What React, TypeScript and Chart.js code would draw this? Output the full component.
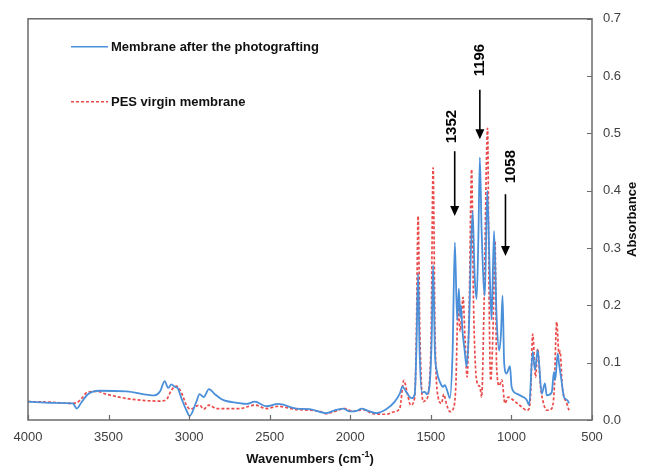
import React, { useEffect, useRef } from "react";
import { Chart, registerables } from "chart.js";

Chart.register(...registerables);

// ---- Data (wavenumber cm-1, absorbance) ----
const blueWave = [
  4000, 3850, 3722, 3697, 3670, 3628, 3556, 3390, 3214, 3180, 3152, 3130, 3110, 3090, 3070, 3048, 3017, 2997,
  2955, 2935, 2910, 2877, 2840, 2790, 2700, 2645, 2593, 2520, 2448, 2334, 2252, 2148, 2107, 2045, 2003, 1960,
  1930, 1890, 1837, 1775, 1724, 1693, 1676, 1655, 1620, 1600, 1590, 1579, 1570, 1555, 1537, 1525, 1510, 1495,
  1486, 1475, 1464, 1440, 1425, 1413, 1395, 1382, 1365, 1351, 1337, 1326, 1318, 1313, 1305, 1290, 1278, 1265,
  1241, 1228, 1216, 1205, 1196, 1185, 1165, 1150, 1135, 1123, 1108, 1092, 1076, 1065, 1055, 1045, 1030, 1009,
  999, 968, 927, 905, 890, 868, 854, 837, 812, 792, 781, 750, 736, 728, 713, 703, 690, 674, 660, 647, 643,
];
const blueAbs = [
  0.032, 0.03, 0.029, 0.02, 0.03, 0.045, 0.051, 0.05, 0.043, 0.05, 0.068, 0.056, 0.062, 0.058, 0.055, 0.038, 0.017, 0.007,
  0.032, 0.045, 0.04, 0.054, 0.045, 0.035, 0.03, 0.028, 0.032, 0.024, 0.028, 0.02, 0.019, 0.012, 0.016, 0.02, 0.015, 0.016,
  0.02, 0.016, 0.012, 0.019, 0.032, 0.046, 0.058, 0.05, 0.038, 0.045, 0.12, 0.255, 0.12, 0.048, 0.049, 0.045, 0.055, 0.14,
  0.27, 0.12, 0.087, 0.064, 0.058, 0.061, 0.048, 0.038, 0.12, 0.31, 0.174, 0.229, 0.18, 0.2, 0.16, 0.12, 0.093, 0.15,
  0.365, 0.25, 0.211, 0.32, 0.458, 0.33, 0.217, 0.4, 0.26, 0.175, 0.33, 0.18, 0.121, 0.15, 0.217, 0.099, 0.081, 0.094,
  0.058, 0.046, 0.04, 0.035, 0.026, 0.119, 0.087, 0.122, 0.046, 0.064, 0.043, 0.048, 0.084, 0.07, 0.116, 0.095, 0.07, 0.04, 0.036, 0.032, 0.029,
];

const redWave = [
  4000, 3850, 3740, 3700, 3660, 3635, 3573, 3514, 3349, 3183, 3140, 3110, 3079, 3048, 3017, 2993, 2935, 2910,
  2877, 2831, 2686, 2593, 2520, 2448, 2355, 2190, 2148, 2086, 2034, 1983, 1920, 1858, 1775, 1734, 1693, 1668,
  1645, 1626, 1600, 1590, 1579, 1568, 1548, 1530, 1500, 1486, 1474, 1455, 1434, 1420, 1405, 1382, 1360, 1345,
  1331, 1318, 1300, 1288, 1275, 1262, 1247, 1235, 1216, 1196, 1185, 1170, 1148, 1138, 1129, 1115, 1102, 1092,
  1075, 1060, 1040, 1020, 990, 960, 937, 906, 890, 880, 868, 850, 837, 820, 806, 781, 750, 735, 719, 705, 698,
  685, 674, 660, 643,
];
const redAbs = [
  0.032, 0.031, 0.029, 0.03, 0.04, 0.048, 0.05, 0.045, 0.036, 0.033, 0.036, 0.052, 0.059, 0.048, 0.026, 0.019, 0.026, 0.019,
  0.026, 0.02, 0.02, 0.026, 0.02, 0.024, 0.019, 0.015, 0.011, 0.016, 0.02, 0.015, 0.018, 0.011, 0.01, 0.014, 0.02, 0.069,
  0.045, 0.026, 0.04, 0.15, 0.356, 0.15, 0.032, 0.035, 0.12, 0.44, 0.15, 0.04, 0.029, 0.045, 0.03, 0.0145, 0.02, 0.06,
  0.197, 0.155, 0.214, 0.14, 0.075, 0.2, 0.437, 0.2, 0.069, 0.058, 0.04, 0.2, 0.509, 0.2, 0.069, 0.15, 0.3125, 0.093,
  0.06, 0.07, 0.029, 0.04, 0.035, 0.028, 0.023, 0.017, 0.02, 0.05, 0.15, 0.075, 0.124, 0.06, 0.035, 0.017, 0.02, 0.05, 0.171, 0.116, 0.12,
  0.06, 0.04, 0.032, 0.017,
];

const seriesNames = ["Membrane after the photografting", "PES virgin membrane"];
const xTickValues = [4000, 3500, 3000, 2500, 2000, 1500, 1000, 500];
const yTickValues = [0, 0.1, 0.2, 0.3, 0.4, 0.5, 0.6, 0.7];
const peakLabels = ["1352", "1196", "1058"];

const xTitle = "Wavenumbers (cm";
const xTitleSup = "-1";
const yTitle = "Absorbance";

// annotation placement (in data units)
const annotations = [
  { text: peakLabels[0], textX: 1370, textY: 0.512, arrowX: 1352, fromY: 0.469, toY: 0.356 },
  { text: peakLabels[1], textX: 1196, textY: 0.628, arrowX: 1196, fromY: 0.576, toY: 0.49 },
  { text: peakLabels[2], textX: 1005, textY: 0.442, arrowX: 1037, fromY: 0.394, toY: 0.286 },
];

const BLUE = "#4A8FD9";
const RED = "#EA4B4B";
const AXIS = "#6b6b6b";
const FONT = "'Liberation Sans', Arial, sans-serif";

const overlayPlugin = {
  id: "overlay",
  afterDatasetsDraw(chart: any) {
    const { ctx, chartArea } = chart;
    const xs = chart.scales.x;
    const ys = chart.scales.y;
    const { left, right, top, bottom } = chartArea;
    ctx.save();

    // plot border
    ctx.strokeStyle = AXIS;
    ctx.lineWidth = 1.5;
    ctx.setLineDash([]);
    ctx.strokeRect(left, top, right - left, bottom - top);

    // inward ticks
    ctx.lineWidth = 1.2;
    ctx.beginPath();
    xTickValues.forEach((v) => {
      const px = Math.round(xs.getPixelForValue(v)) + 0.5;
      ctx.moveTo(px, bottom);
      ctx.lineTo(px, bottom - 5);
    });
    yTickValues.forEach((v) => {
      const py = Math.round(ys.getPixelForValue(v)) + 0.5;
      ctx.moveTo(right, py);
      ctx.lineTo(right - 5, py);
    });
    ctx.stroke();

    // annotations: arrows + rotated labels
    ctx.fillStyle = "#000";
    ctx.strokeStyle = "#000";
    annotations.forEach((a) => {
      const ax = xs.getPixelForValue(a.arrowX);
      const y1 = ys.getPixelForValue(a.fromY);
      const y2 = ys.getPixelForValue(a.toY);
      ctx.lineWidth = 1.6;
      ctx.beginPath();
      ctx.moveTo(ax, y1);
      ctx.lineTo(ax, y2 - 8);
      ctx.stroke();
      ctx.beginPath();
      ctx.moveTo(ax - 4.5, y2 - 10);
      ctx.lineTo(ax + 4.5, y2 - 10);
      ctx.lineTo(ax, y2);
      ctx.closePath();
      ctx.fill();

      const tx = xs.getPixelForValue(a.textX);
      const ty = ys.getPixelForValue(a.textY);
      ctx.save();
      ctx.translate(tx, ty);
      ctx.rotate(-Math.PI / 2);
      ctx.font = `bold 15px ${FONT}`;
      ctx.textAlign = "center";
      ctx.textBaseline = "middle";
      ctx.fillText(a.text, 0, 0);
      ctx.restore();
    });

    // legend
    const lx = left + 43;
    const rows = [
      { y: top + 28, color: BLUE, dash: [] as number[], name: seriesNames[0] },
      { y: top + 83, color: RED, dash: [3, 2], name: seriesNames[1] },
    ];
    rows.forEach((r) => {
      ctx.strokeStyle = r.color;
      ctx.lineWidth = 1.5;
      ctx.setLineDash(r.dash);
      ctx.beginPath();
      ctx.moveTo(lx, r.y);
      ctx.lineTo(lx + 37, r.y);
      ctx.stroke();
      ctx.setLineDash([]);
      ctx.fillStyle = "#111";
      ctx.font = `bold 13px ${FONT}`;
      ctx.textAlign = "left";
      ctx.textBaseline = "middle";
      ctx.fillText(r.name, lx + 40, r.y + 1);
    });

    // y title (rotated, reading upward)
    ctx.save();
    ctx.translate(632, (top + bottom) / 2);
    ctx.rotate(-Math.PI / 2);
    ctx.font = `bold 13px ${FONT}`;
    ctx.fillStyle = "#111";
    ctx.textAlign = "center";
    ctx.textBaseline = "middle";
    ctx.fillText(yTitle, 0, 0);
    ctx.restore();

    // x title with superscript
    ctx.font = `bold 13px ${FONT}`;
    const w1 = ctx.measureText(xTitle).width;
    ctx.font = `bold 9px ${FONT}`;
    const w2 = ctx.measureText(xTitleSup).width;
    ctx.font = `bold 13px ${FONT}`;
    const w3 = ctx.measureText(")").width;
    const total = w1 + w2 + w3;
    const cx = (left + right) / 2;
    let sx = cx - total / 2;
    const ty = 459;
    ctx.fillStyle = "#111";
    ctx.textAlign = "left";
    ctx.textBaseline = "middle";
    ctx.fillText(xTitle, sx, ty);
    sx += w1;
    ctx.font = `bold 9px ${FONT}`;
    ctx.fillText(xTitleSup, sx, ty - 4);
    sx += w2;
    ctx.font = `bold 13px ${FONT}`;
    ctx.fillText(")", sx, ty);

    ctx.restore();
  },
};

export default function App() {
  const canvasRef = useRef<HTMLCanvasElement | null>(null);

  useEffect(() => {
    document.body.style.margin = "0";
    const canvas = canvasRef.current;
    if (!canvas) return;
    const chart = new Chart(canvas, {
      type: "line",
      data: {
        datasets: [
          {
            label: seriesNames[0],
            data: blueWave.map((w, i) => ({ x: w, y: blueAbs[i] })),
            borderColor: BLUE,
            backgroundColor: BLUE,
            borderWidth: 1.8,
            pointRadius: 0,
            cubicInterpolationMode: "monotone",
          },
          {
            label: seriesNames[1],
            data: redWave.map((w, i) => ({ x: w, y: redAbs[i] })),
            borderColor: RED,
            backgroundColor: RED,
            borderWidth: 1.7,
            borderDash: [3, 2],
            pointRadius: 0,
            cubicInterpolationMode: "monotone",
          },
        ],
      },
      options: {
        animation: false,
        responsive: false,
        devicePixelRatio: 1,
        layout: { padding: { left: 28, top: 16, right: 0, bottom: 0 } },
        plugins: { legend: { display: false }, tooltip: { enabled: false } },
        scales: {
          x: {
            type: "linear",
            reverse: true,
            min: 500,
            max: 4000,
            position: "bottom",
            afterBuildTicks: (s: any) => {
              s.ticks = xTickValues.map((v) => ({ value: v }));
            },
            ticks: {
              font: { size: 13, family: FONT },
              color: "#404040",
              padding: 10,
              maxRotation: 0,
              autoSkip: false,
              callback: (v: any) => String(v),
            },
            grid: { display: false, drawTicks: false },
            border: { display: false },
            afterFit: (s: any) => {
              s.height = 46;
            },
          },
          y: {
            type: "linear",
            position: "right",
            min: 0,
            max: 0.7,
            afterBuildTicks: (s: any) => {
              s.ticks = yTickValues.map((v) => ({ value: v }));
            },
            ticks: {
              font: { size: 13, family: FONT },
              color: "#404040",
              padding: 11,
              callback: (v: any) => Number(v).toFixed(1),
            },
            grid: { display: false, drawTicks: false },
            border: { display: false },
            afterFit: (s: any) => {
              s.width = 57;
            },
          },
        },
      },
      plugins: [overlayPlugin],
    });
    return () => chart.destroy();
  }, []);

  return (
    <div style={{ width: 649, height: 466, background: "#fff" }}>
      <canvas ref={canvasRef} width={649} height={466} style={{ display: "block" }} />
    </div>
  );
}
